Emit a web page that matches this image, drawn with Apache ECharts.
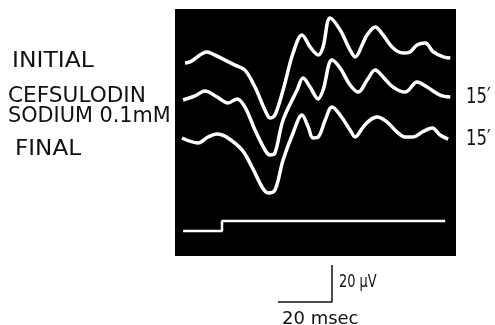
<!DOCTYPE html>
<html>
<head>
<meta charset="utf-8">
<script src="https://cdn.jsdelivr.net/npm/echarts@6/dist/echarts.min.js"></script>
<style>
html,body{margin:0;padding:0;background:#fff;}
#chart{width:495px;height:325px;}
</style>
</head>
<body>
<div id="chart"></div>
<script>
// time in msec, potential in microvolts (offset traces as photographed)
var initialTrace = [[3.7,104.3],[5.6,104.9],[11.9,110.3],[14.8,108.6],[18.5,105.9],[22.2,103.2],[25.9,100.5],[29.6,91.3],[33.3,78.9],[35.2,74.6],[37.0,76.2],[40.0,89.7],[43.7,109.7],[47.0,119.5],[50.0,113.0],[53.0,108.6],[54.8,113.0],[57.4,128.6],[61.1,122.2],[64.8,111.3],[66.7,107.6],[69.6,115.1],[71.1,119.5],[74.1,123.8],[77.0,119.5],[80.7,112.4],[84.5,109.7],[87.0,110.3],[89.6,114.1],[92.6,115.1],[95.6,110.3],[99.3,107.6],[101.9,107.0]];
var cefsulodinTrace = [[3.0,84.3],[7.4,86.5],[11.1,89.2],[15.6,85.9],[19.6,82.7],[23.0,84.9],[25.9,80.5],[29.6,68.1],[33.3,57.3],[35.2,54.6],[37.0,55.7],[40.0,73.5],[45.2,89.7],[47.4,96.2],[50.0,91.3],[53.0,84.9],[54.8,89.7],[58.1,105.9],[61.1,101.6],[64.8,92.4],[67.8,88.6],[71.1,95.1],[74.1,100.5],[77.0,96.8],[80.7,91.3],[85.2,88.6],[89.6,94.0],[93.3,91.3],[98.1,87.0],[101.9,85.9]];
var finalTrace = [[2.6,63.8],[8.5,61.1],[12.2,64.3],[15.6,65.9],[19.6,63.8],[24.8,57.3],[28.5,48.1],[32.2,37.3],[34.4,34.1],[37.0,35.7],[40.0,51.9],[43.7,66.5],[47.0,76.2],[49.3,69.7],[51.1,63.8],[53.0,64.3],[55.6,73.5],[58.1,80.5],[61.1,76.2],[64.8,68.1],[66.7,64.3],[69.6,69.7],[72.2,73.5],[74.8,75.1],[78.5,72.4],[82.2,67.0],[85.2,64.3],[88.1,64.3],[91.5,67.0],[95.2,69.2],[98.1,65.4],[101.1,63.2]];
var stimulusStep = [[3.0,13.5],[17.4,13.5],[17.4,18.9],[100.0,18.9]];
var scaleBar = [[38.1,-24.9],[58.1,-24.9],[58.1,-4.9]];
var traceLabels = ['INITIAL', 'CEFSULODIN', 'SODIUM 0.1mM', 'FINAL'];
var timeLabels = ['15\u2032', '15\u2032'];
var scaleLabels = ['20 \u03bcV', '20 msec'];

var chart = echarts.init(document.getElementById('chart'), null, {renderer: 'canvas'});
var font = '"DejaVu Sans", sans-serif';
function txt(s, x, y, size, sx) {
  return {type: 'text', x: x, y: y, scaleX: sx || 1,
    style: {text: s, fill: '#111', font: size + 'px ' + font, textVerticalAlign: 'middle'}};
}
function trace(data) {
  return {type: 'line', data: data, smooth: 0.35, symbol: 'none', lineStyle: {color: '#fff', width: 3.5}};
}
chart.setOption({
  animation: false,
  backgroundColor: '#fff',
  grid: {left: 175, top: 9, width: 281, height: 247, show: true, backgroundColor: '#000', borderWidth: 0},
  xAxis: {type: 'value', min: 0, max: 104, show: false},
  yAxis: {type: 'value', min: 0, max: 133.5, show: false},
  series: [
    trace(initialTrace),
    trace(cefsulodinTrace),
    trace(finalTrace),
    {type: 'line', data: stimulusStep, symbol: 'none', lineStyle: {color: '#fff', width: 2.5}},
    {type: 'line', data: scaleBar, symbol: 'none', clip: false, lineStyle: {color: '#111', width: 1.5}}
  ],
  graphic: [
    txt(traceLabels[0], 12, 62, 21, 1.12),
    txt(traceLabels[1], 8, 97, 21, 1.03),
    txt(traceLabels[2], 8, 117, 21, 0.99),
    txt(traceLabels[3], 15, 150, 21, 1.1),
    txt(timeLabels[0], 466, 97, 22, 0.75),
    txt(timeLabels[1], 466, 139, 22, 0.75),
    txt(scaleLabels[0], 339, 282, 18, 0.72),
    txt(scaleLabels[1], 282, 319, 18, 1)
  ]
});
</script>
</body>
</html>
